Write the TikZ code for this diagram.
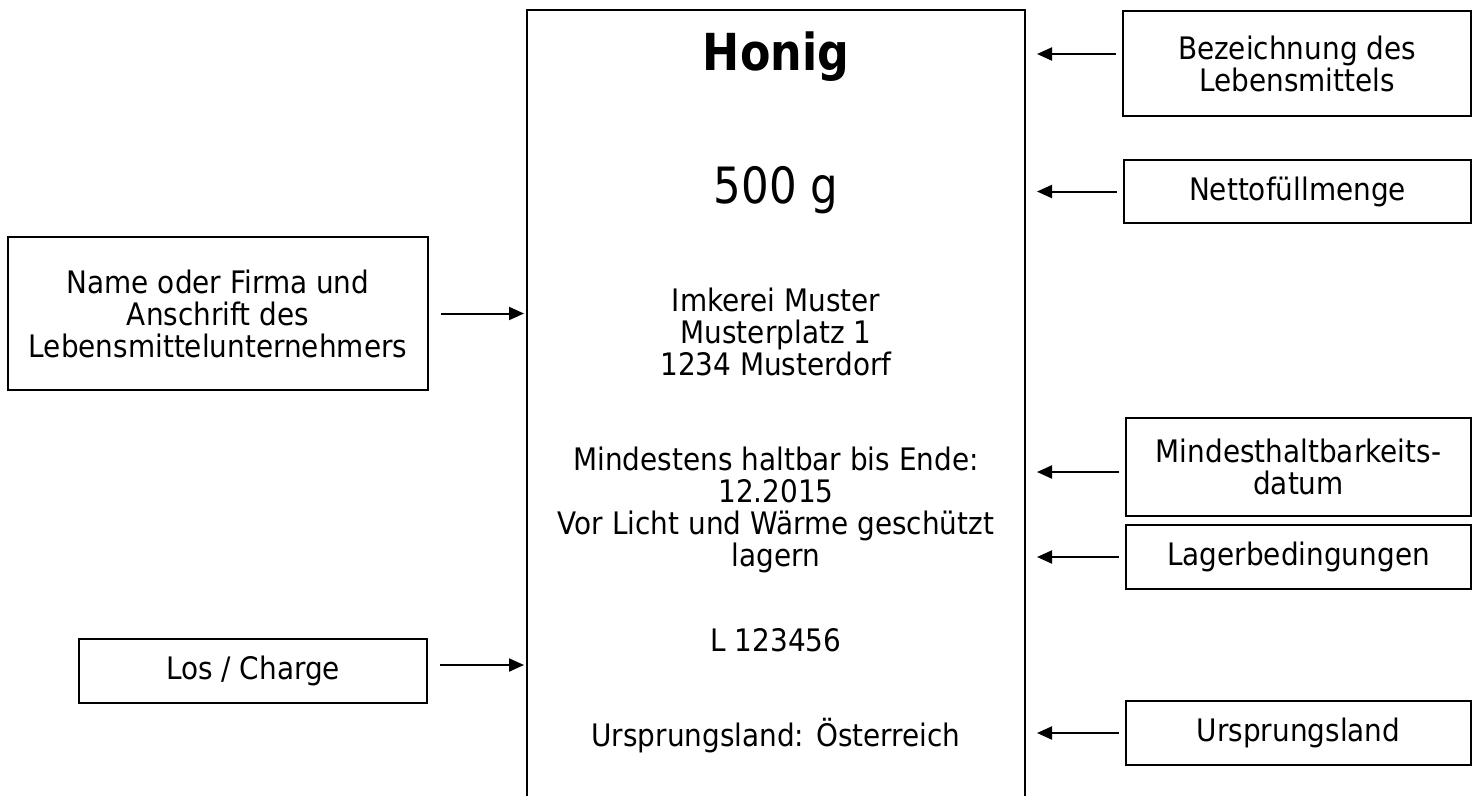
\documentclass[tikz,border=0pt]{standalone}
\usepackage{fontspec}
\setmainfont{DejaVu Sans}[FakeStretch=0.9]
\newfontfamily\narrowfont{DejaVu Sans}[FakeStretch=0.87]
\usetikzlibrary{positioning, arrows.meta, calc}

\begin{document}
\begin{tikzpicture}[x=1pt, y=-1pt,
	infobox/.style={draw, line width=2pt, align=center, inner sep=0pt, font=\fontsize{31}{32}\selectfont},
	labeltext/.style={align=center, inner sep=0pt, font=\fontsize{31}{32}\selectfont},
	pointer/.style={line width=2pt, -{Triangle[length=15pt, width=13pt]}}]
	\useasboundingbox (0,0) rectangle (1482,796);
	% the label, open at the bottom
	\coordinate (lbl-l) at (527,10);
	\coordinate (lbl-r) at (1025,10);
	\draw[line width=2pt] (527,796) -- (lbl-l) -- (lbl-r) -- (1025,796);
	\node[inner sep=0pt, font=\narrowfont\bfseries\fontsize{51}{56}\selectfont] (honig) at (776,57) {Honig};
	\node[inner sep=0pt, font=\narrowfont\fontsize{50}{56}\selectfont] (menge) at (776,190) {500 g};
	\node[labeltext] (firma) at (776,332) {Imkerei Muster\\Musterplatz 1\\1234 Musterdorf};
	\node[labeltext] (mhd) at (776,510) {Mindestens haltbar bis Ende:\\12.2015\\Vor Licht und Wärme geschützt\\lagern};
	\node[labeltext] (los) at (776,640) {L 123456};
	\node[labeltext] (land) at (776,736) {Ursprungsland: Österreich};
	% explanations on the right
	\node[infobox, minimum width=348pt, minimum height=105pt] (bez) at (1297,63.5) {Bezeichnung des\\Lebensmittels};
	\node[infobox, minimum width=347pt, minimum height=63pt] (netto) at (1297.5,191.5) {Nettofüllmenge};
	\node[infobox, minimum width=345pt, minimum height=98pt] (mhdbox) at (1298.5,467) {Mindesthaltbarkeits-\\datum};
	\node[infobox, minimum width=345pt, minimum height=64pt] (lager) at (1298.5,557) {Lagerbedingungen};
	\node[infobox, minimum width=345pt, minimum height=64pt] (herkunft) at (1298.5,733) {Ursprungsland};
	% explanations on the left
	\node[infobox, minimum width=420pt, minimum height=153pt] (name) at (218,313.5) {Name oder Firma und\\Anschrift des\\Lebensmittelunternehmers};
	\node[infobox, minimum width=348pt, minimum height=64pt] (charge) at (253,671) {Los / Charge};
	% arrows
	\coordinate (bez-in) at ($(bez.west)+(0,-9.5)$);
	\coordinate (mhd-in) at ($(mhdbox.west)+(0,5)$);
	\coordinate (charge-out) at ($(charge.east)+(0,-6)$);
	\draw[pointer, shorten <=6pt, shorten >=12pt] (bez-in) -- (bez-in -| lbl-r);
	\draw[pointer, shorten <=6pt, shorten >=12pt] (netto.west) -- (netto.west -| lbl-r);
	\draw[pointer, shorten <=6pt, shorten >=12pt] (mhd-in) -- (mhd-in -| lbl-r);
	\draw[pointer, shorten <=6pt, shorten >=12pt] (lager.west) -- (lager.west -| lbl-r);
	\draw[pointer, shorten <=6pt, shorten >=12pt] (herkunft.west) -- (herkunft.west -| lbl-r);
	\draw[pointer, shorten <=12pt, shorten >=3pt] (name.east) -- (name.east -| lbl-l);
	\draw[pointer, shorten <=12pt, shorten >=3pt] (charge-out) -- (charge-out -| lbl-l);
\end{tikzpicture}
\end{document}
